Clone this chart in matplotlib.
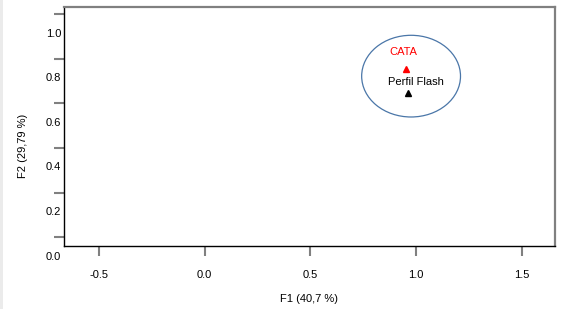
import matplotlib.pyplot as plt
from matplotlib.patches import Ellipse, Rectangle

plt.rcParams['font.family'] = ['Liberation Sans', 'DejaVu Sans']

# data
names = ['CATA', 'Perfil Flash']
f1 = [0.951, 0.961]
f2 = [0.841, 0.734]
colors = ['#ff0000', '#000000']
label_offsets = [(-1.5, 12.5), (5.5, 7.5)]

xticks = [-0.5, 0.0, 0.5, 1.0, 1.5]
yticks = [0.0, 0.2, 0.4, 0.6, 0.8, 1.0]
ytick_shift = 0.087   # tick marks sit above their labels in the original

group_center = (0.976, 0.809)
group_size = (0.467, 0.366)

fig = plt.figure(figsize=(5.85, 3.09), dpi=100)
fig.add_artist(Rectangle((0, 0), 0.005, 1, transform=fig.transFigure,
                         color='#ebebeb', lw=0))
ax = fig.add_axes([64/585, 1 - 246/309, (555-64)/585, (246-6.5)/309])

for n, x, y, c, off in zip(names, f1, f2, colors, label_offsets):
    ax.plot(x, y, marker='^', color=c, markersize=5, linestyle='none')
    ax.annotate(n, (x, y), xytext=off, textcoords='offset points',
                ha='center', va='center', color=c, fontsize=8)

ax.add_patch(Ellipse(group_center, group_size[0], group_size[1],
                     fill=False, edgecolor='#4a76a8', lw=0.9))

ax.set_xlim(-0.664, 1.656)
ax.set_ylim(0.048, 1.121)

ax.set_xticks(xticks)
ax.set_xticklabels([f'{t:.1f}' for t in xticks])
ax.set_yticks([t + ytick_shift for t in yticks])
ax.set_yticklabels([])
for t in yticks:
    ax.text(-0.006, t, f'{t:.1f}', transform=ax.get_yaxis_transform(),
            ha='right', va='center', fontsize=8, clip_on=False)

ax.tick_params(axis='x', direction='out', length=7, width=1.5, color='#808080',
               pad=10, labelsize=8)
ax.tick_params(axis='y', direction='out', length=7, width=1.5, color='#808080')

for s in ['top', 'right']:
    ax.spines[s].set_color('#808080')
    ax.spines[s].set_linewidth(1.6)
for s in ['left', 'bottom']:
    ax.spines[s].set_color('#000000')
    ax.spines[s].set_linewidth(1.0)

ax.set_xlabel('F1 (40,7 %)', fontsize=8)
ax.set_ylabel('F2 (29,79 %)', fontsize=8)
ax.xaxis.set_label_coords(0.5, -0.2)
ax.yaxis.set_label_coords(-0.073, 0.419)

fig.savefig('out.png', dpi=100)
